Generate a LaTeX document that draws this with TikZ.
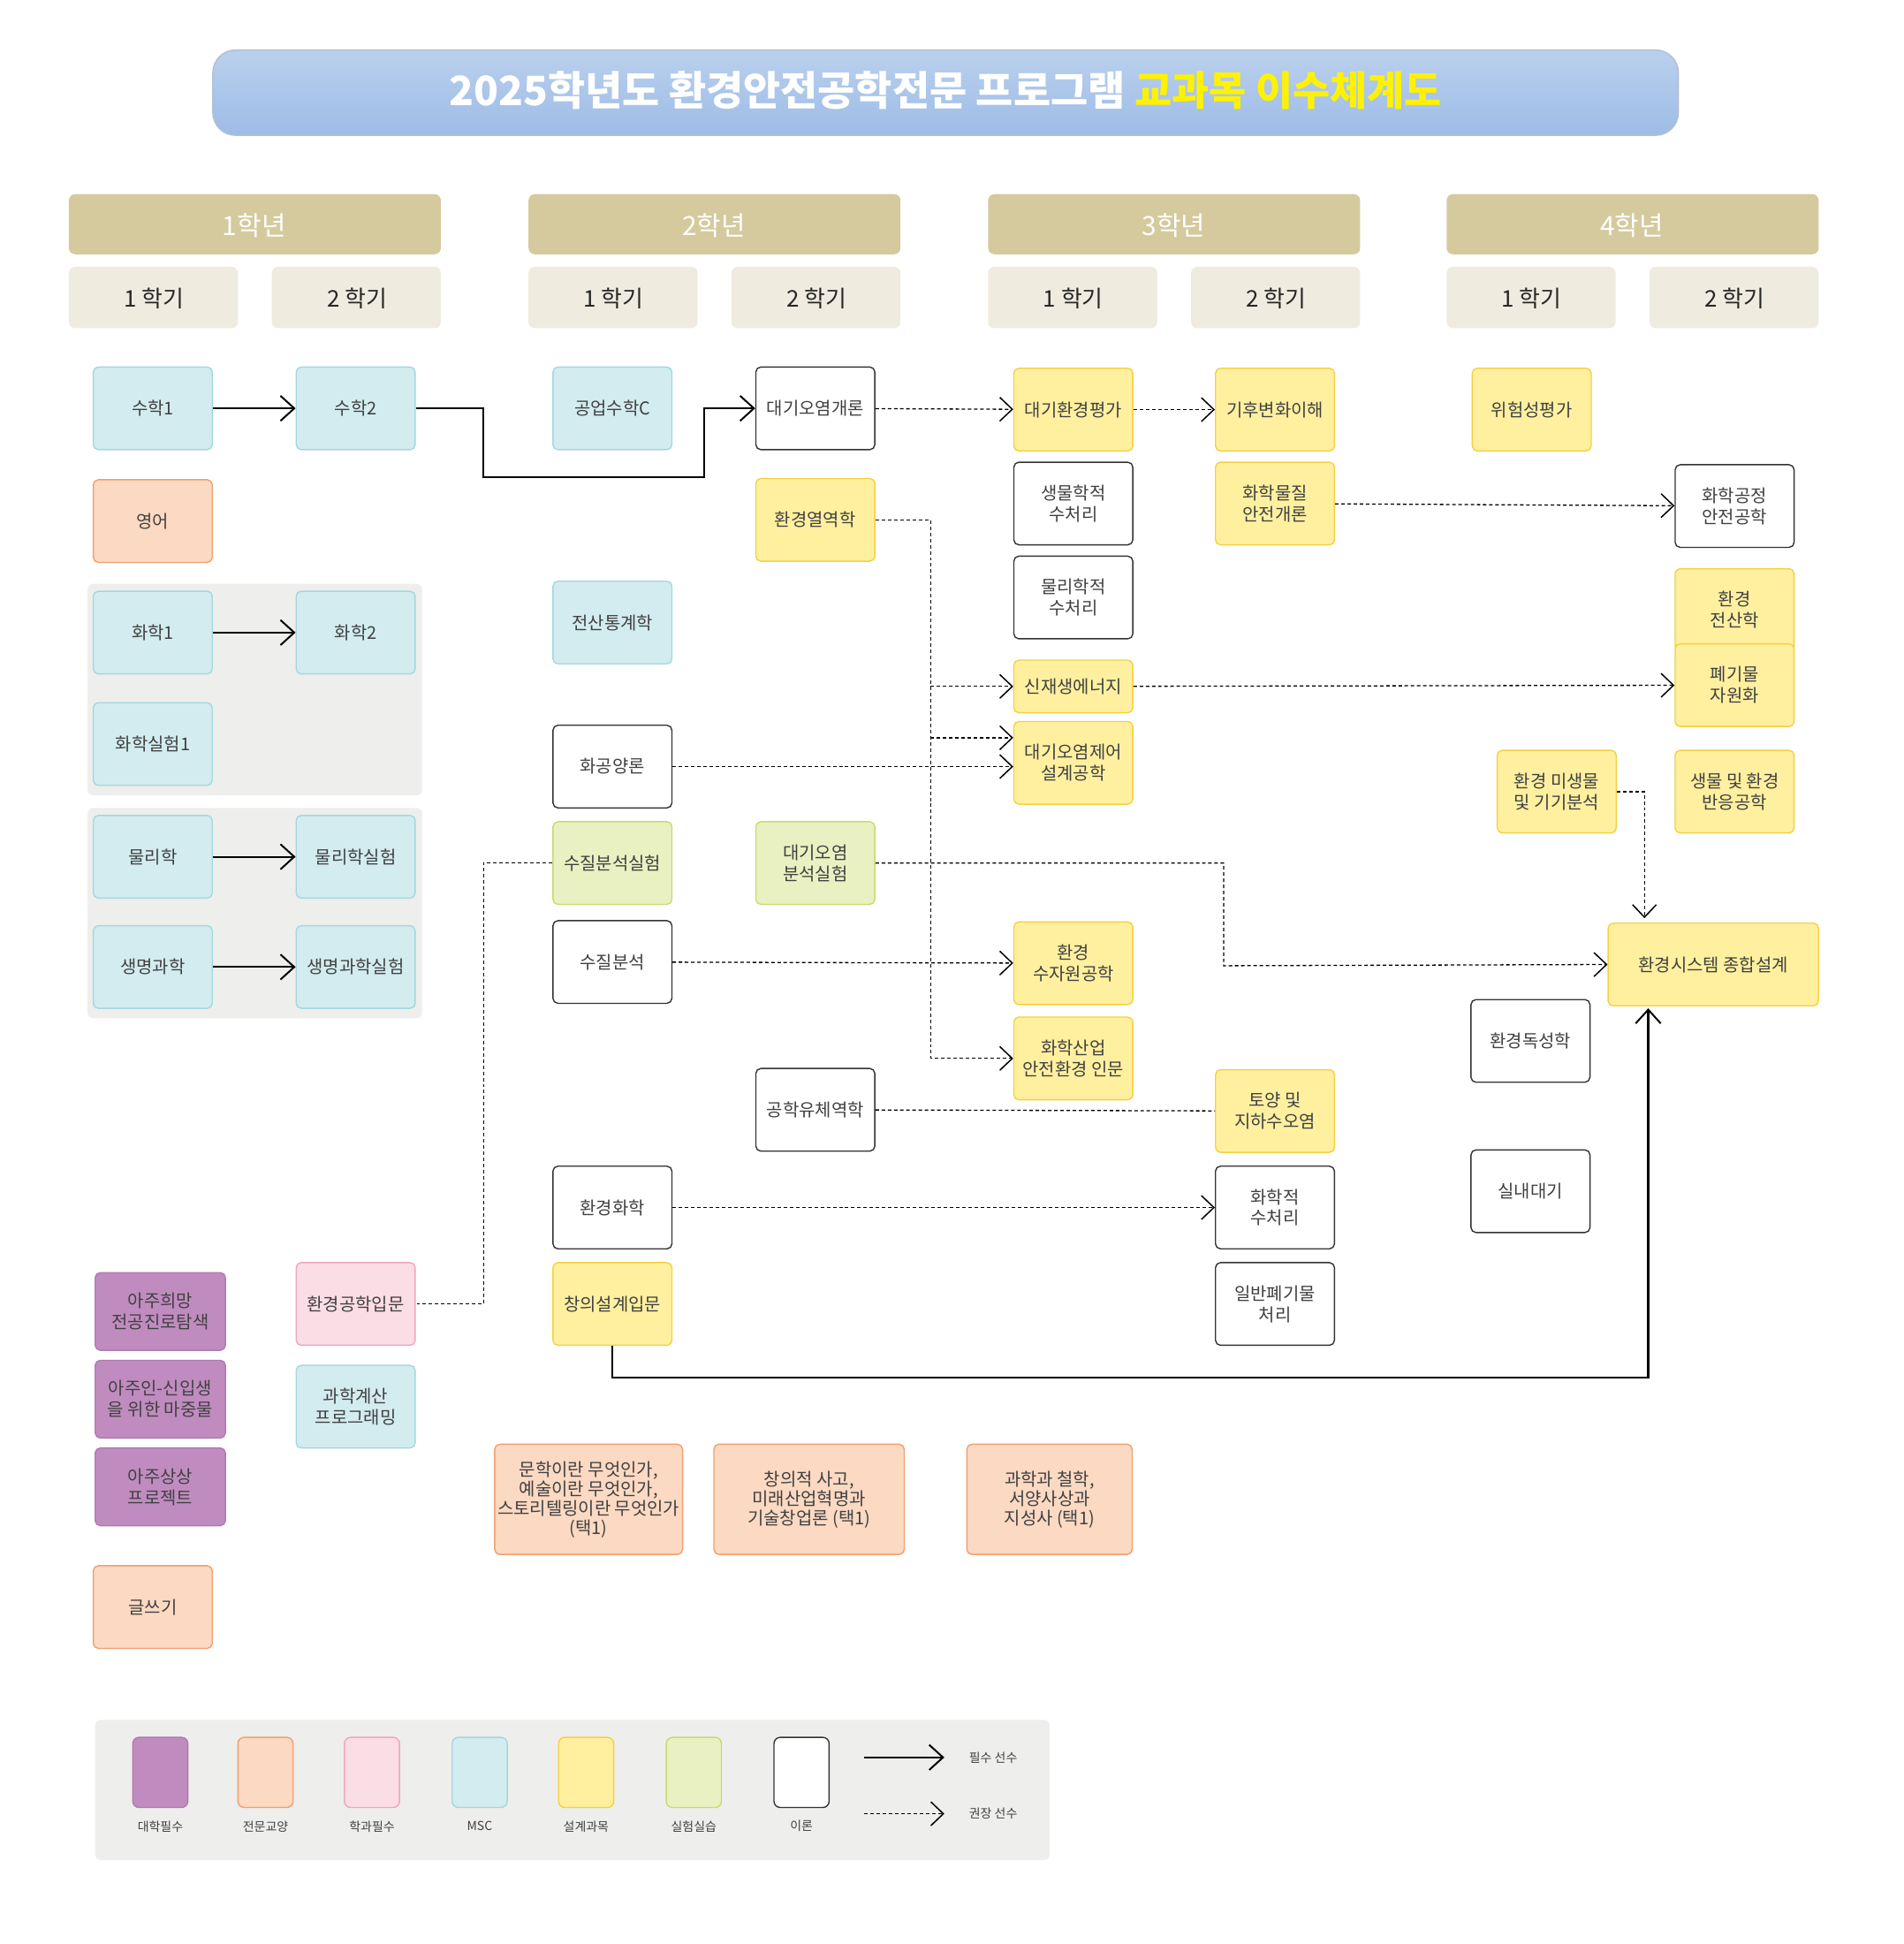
\documentclass[tikz,border=0pt]{standalone}
\usepackage{fontspec}
\setmainfont{Noto Sans CJK KR}
\usetikzlibrary{arrows.meta,calc}
\definecolor{msc}{HTML}{D3ECEF}\definecolor{mscb}{HTML}{A4D8DE}
\definecolor{dsg}{HTML}{FFF0A0}\definecolor{dsgb}{HTML}{F5D040}
\definecolor{gen}{HTML}{FBD9C2}\definecolor{genb}{HTML}{F0A070}
\definecolor{dep}{HTML}{FBDDE6}\definecolor{depb}{HTML}{EFA6BE}
\definecolor{uni}{HTML}{C08CC0}\definecolor{unib}{HTML}{B07AB0}
\definecolor{lab}{HTML}{E9F1C2}\definecolor{labb}{HTML}{C5DC6E}
\definecolor{yearc}{HTML}{D5CA9E}\definecolor{semc}{HTML}{EFEBDF}
\definecolor{grayc}{HTML}{EEEEEC}\definecolor{titc}{HTML}{9DBCE6}
\definecolor{ttl}{HTML}{FFF200}\definecolor{txt}{HTML}{404040}
\tikzset{
  box/.style={draw, line width=1.4pt, rounded corners=0.2cm, align=center,
    minimum width=4.75cm, minimum height=3.3cm, inner sep=1pt, text=txt,
    font=\fontsize{20}{30}\selectfont},
  mscbox/.style={box, fill=msc, draw=mscb},
  dsgbox/.style={box, fill=dsg, draw=dsgb},
  genbox/.style={box, fill=gen, draw=genb},
  depbox/.style={box, fill=dep, draw=depb},
  unibox/.style={box, fill=uni, draw=unib, minimum width=5.2cm, minimum height=3.1cm},
  labbox/.style={box, fill=lab, draw=labb},
  thbox/.style={box, fill=white, draw=black!80},
  req/.style={line width=2.2pt, -{Straight Barb[length=0.55cm,width=1.0cm,line width=2pt]}},
  rec/.style={line width=1.3pt, dash pattern=on 4pt off 3pt, -{Straight Barb[length=0.5cm,width=0.95cm,line width=1.5pt]}},
  recl/.style={line width=1.3pt, dash pattern=on 4pt off 3pt},
  year/.style={fill=yearc, rounded corners=0.25cm},
  sem/.style={fill=semc, rounded corners=0.25cm}
}
\begin{document}
\begin{tikzpicture}[x=0.05cm,y=-0.05cm]
\useasboundingbox (0,0) rectangle (1520,1552);
% title
\shade[top color=titc!70, bottom color=titc, draw=titc!80!black!60, line width=1.5pt, rounded corners=0.9cm]
  (170,40) rectangle (1340,108);
\node[text=white, font=\fontsize{46}{50}\selectfont\bfseries] (title) at (755,72)
  {2025학년도 환경안전공학전문 프로그램 \textcolor{ttl}{교과목 이수체계도}};
% years and semesters
\foreach \x/\yn in {55/1,422/2,789/3,1155/4}{
  \fill[year] (\x,155) rectangle ++(297,48);
  \node[text=white, font=\fontsize{30}{34}\selectfont] (yr\yn) at (\x+148,180) {{\yn}학년};
  \fill[sem] (\x,213) rectangle ++(135,49);
  \node[text=black!85, font=\fontsize{26}{30}\selectfont] (s\yn a) at (\x+68,238) {1 학기};
  \fill[sem] (\x+162,213) rectangle ++(135,49);
  \node[text=black!85, font=\fontsize{26}{30}\selectfont] (s\yn b) at (\x+230,238) {2 학기};
}
% gray groups
\fill[grayc, rounded corners=0.2cm] (70,466) rectangle (337,635);
\fill[grayc, rounded corners=0.2cm] (70,645) rectangle (337,813);

% 1st year
\node[mscbox] (math1) at (122,326) {수학1};
\node[mscbox] (math2) at (284,326) {수학2};
\node[genbox] (eng) at (122,416) {영어};
\node[mscbox] (chem1) at (122,505) {화학1};
\node[mscbox] (chem2) at (284,505) {화학2};
\node[mscbox] (chemlab) at (122,594) {화학실험1};
\node[mscbox] (phys) at (122,684) {물리학};
\node[mscbox] (physlab) at (284,684) {물리학실험};
\node[mscbox] (bio) at (122,772) {생명과학};
\node[mscbox] (biolab) at (284,772) {생명과학실험};
\node[unibox] (hope) at (128,1047) {아주희망\\[-6pt]전공진로탐색};
\node[unibox] (newst) at (128,1117) {아주인-신입생\\[-6pt]을 위한 마중물};
\node[unibox] (proj) at (128,1187) {아주상상\\[-6pt]프로젝트};
\node[genbox] (write) at (122,1283) {글쓰기};
\node[depbox] (intro) at (284,1041) {환경공학입문};
\node[mscbox] (sciprog) at (284,1123) {과학계산\\[-6pt]프로그래밍};

% 2nd year
\node[mscbox] (engmath) at (489,326) {공업수학C};
\node[mscbox] (stat) at (489,497) {전산통계학};
\node[thbox] (balance) at (489,612) {화공양론};
\node[labbox] (wqlab) at (489,689) {수질분석실험};
\node[thbox] (wq) at (489,768) {수질분석};
\node[thbox] (envchem) at (489,964) {환경화학};
\node[dsgbox] (design) at (489,1041) {창의설계입문};
\node[thbox] (airintro) at (651,326) {대기오염개론};
\node[dsgbox] (thermo) at (651,415) {환경열역학};
\node[labbox] (airlab) at (651,689) {대기오염\\[-6pt]분석실험};
\node[thbox] (fluid) at (651,886) {공학유체역학};

% 3rd year
\node[dsgbox] (airassess) at (857,327) {대기환경평가};
\node[thbox] (biotreat) at (857,402) {생물학적\\[-6pt]수처리};
\node[thbox] (phystreat) at (857,477) {물리학적\\[-6pt]수처리};
\node[dsgbox, minimum height=2.1cm] (renew) at (857,548) {신재생에너지};
\node[dsgbox] (airctrl) at (857,609) {대기오염제어\\[-6pt]설계공학};
\node[dsgbox] (water) at (857,769) {환경\\[-6pt]수자원공학};
\node[dsgbox] (chemind) at (857,845) {화학산업\\[-6pt]안전환경 인문};
\node[dsgbox] (climate) at (1018,327) {기후변화이해};
\node[dsgbox] (chemsafe) at (1018,402) {화학물질\\[-6pt]안전개론};
\node[dsgbox] (soil) at (1018,887) {토양 및\\[-6pt]지하수오염};
\node[thbox] (chemtreat) at (1018,964) {화학적\\[-6pt]수처리};
\node[thbox] (waste) at (1018,1041) {일반폐기물\\[-6pt]처리};

% 4th year
\node[dsgbox] (risk) at (1223,327) {위험성평가};
\node[dsgbox] (micro) at (1243,632) {환경 미생물\\[-6pt]및 기기분석};
\node[thbox] (tox) at (1222,831) {환경독성학};
\node[thbox] (indoor) at (1222,951) {실내대기};
\node[thbox] (procsafe) at (1385,404) {화학공정\\[-6pt]안전공학};
\node[dsgbox] (envcomp) at (1385,487) {환경\\[-6pt]전산학};
\node[dsgbox] (recycle) at (1385,547) {폐기물\\[-6pt]자원화};
\node[dsgbox] (bioreact) at (1385,632) {생물 및 환경\\[-6pt]반응공학};
\node[dsgbox, minimum width=8.4cm] (capstone) at (1368,770) {환경시스템 종합설계};

% general electives
\node[genbox, minimum width=7.5cm, minimum height=4.4cm] (lit) at (470,1197)
  {문학이란 무엇인가,\\[-8pt]예술이란 무엇인가,\\[-8pt]스토리텔링이란 무엇인가\\[-8pt](택1)};
\node[genbox, minimum width=7.6cm, minimum height=4.4cm] (creat) at (646,1197)
  {창의적 사고,\\[-8pt]미래산업혁명과\\[-8pt]기술창업론 (택1)};
\node[genbox, minimum width=6.6cm, minimum height=4.4cm] (philo) at (838,1197)
  {과학과 철학,\\[-8pt]서양사상과\\[-8pt]지성사 (택1)};

% required prerequisites
\foreach \a/\b in {math1/math2,chem1/chem2,phys/physlab,bio/biolab}
  \draw[req] (\a) -- (\b);
\draw[req] (math2.east) -| (386,381) -| (562,326) -- (airintro.west);
\draw[req] (design.south) |- (1316,1100) -- (1316,805);

% recommended prerequisites
\draw[rec] (airintro) -- (airassess);
\draw[rec] (airassess) -- (climate);
\draw[rec] (chemsafe) -- (procsafe);
\draw[rec] (thermo.east) -| (743,845) -- (chemind.west);
\draw[rec] (743,548) -- (renew.west);
\draw[rec] (743,589) -- (airctrl.west |- 0,589);
\draw[rec] (balance) -- (airctrl.west |- balance);
\draw[rec] (renew) -- (recycle);
\draw[recl] (wqlab.west) -- (386,689) |- (intro.east);
\draw[rec] (airlab.east) -| (977,771) -- (capstone.west);
\draw[rec] (wq) -- (water);
\draw[recl] (fluid) -- (soil);
\draw[rec] (envchem) -- (chemtreat);
\draw[rec] (micro.east) -| (1313,733);

% legend
\fill[grayc, rounded corners=0.2cm] (76,1373) rectangle (838,1485);
\foreach \c/\d/\x/\t [count=\i] in {uni/unib/128/대학필수,gen/genb/212/전문교양,dep/depb/297/학과필수,
  msc/mscb/383/MSC,dsg/dsgb/468/설계과목,lab/labb/554/실험실습,white/black!80/640/이론}{
  \filldraw[fill=\c, draw=\d, line width=1.4pt, rounded corners=0.25cm] (\x-22,1387) rectangle (\x+22,1443);
  \node[text=txt, font=\fontsize{14}{16}\selectfont] (lg\i) at (\x,1458) {\t};
}
\coordinate (la) at (690,1403); \coordinate (lb) at (754,1403);
\coordinate (lc) at (690,1448); \coordinate (ld) at (754,1448);
\draw[req, line width=1.6pt] (la) -- (lb);
\draw[rec] (lc) -- (ld);
\node[text=txt, font=\fontsize{14}{16}\selectfont] (lreq) at (793,1403) {필수 선수};
\node[text=txt, font=\fontsize{14}{16}\selectfont] (lrec) at (793,1448) {권장 선수};
\end{tikzpicture}
\end{document}
